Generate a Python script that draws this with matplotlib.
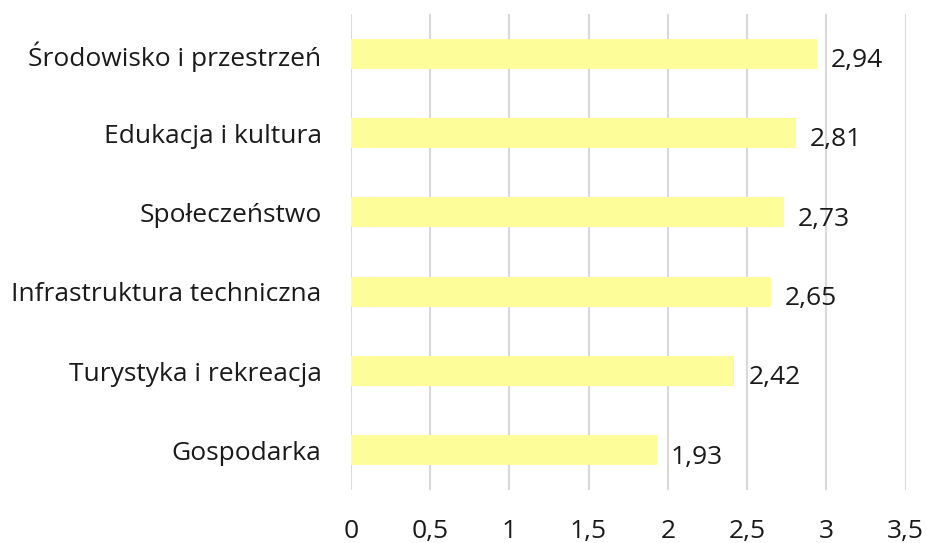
import matplotlib.pyplot as plt
import numpy as np

categories = ["Gospodarka", "Turystyka i rekreacja", "Infrastruktura techniczna",
              "Społeczeństwo", "Edukacja i kultura", "Środowisko i przestrzeń"]
values = [1.93, 2.42, 2.65, 2.73, 2.81, 2.94]
xticks = [0, 0.5, 1, 1.5, 2, 2.5, 3, 3.5]

plt.rcParams['font.family'] = ['Open Sans', 'DejaVu Sans']

fig = plt.figure(figsize=(9.28, 5.43), dpi=100)
ax = fig.add_axes([0.378, 0.0976, 0.598, 0.8766])

y = np.arange(len(categories))
bars = ax.barh(y, values, height=0.38, color="#FDFD9A", zorder=2)

for yi, v in zip(y, values):
    ax.annotate(f"{v:.2f}".replace(".", ","), (v, yi), xytext=(10, -5),
                textcoords="offset points", ha="left", va="center",
                fontsize=19, color="#1a1a1a")

ax.set_xlim(0, 3.5)
ax.set_ylim(-0.5, len(categories) - 0.5)
ax.set_xticks(xticks)
ax.set_xticklabels([f"{t:g}".replace(".", ",") for t in xticks])
ax.set_yticks(y)
ax.set_yticklabels(categories)
ax.tick_params(axis="x", length=0, pad=21, labelsize=19, labelcolor="#1a1a1a")
ax.tick_params(axis="y", length=0, pad=21, labelsize=19, labelcolor="#1a1a1a")
ax.xaxis.grid(True, color="#D9D9D9", linewidth=1.5, zorder=0)
for s in ax.spines.values():
    s.set_visible(False)

fig.savefig("out.png", dpi=100)
